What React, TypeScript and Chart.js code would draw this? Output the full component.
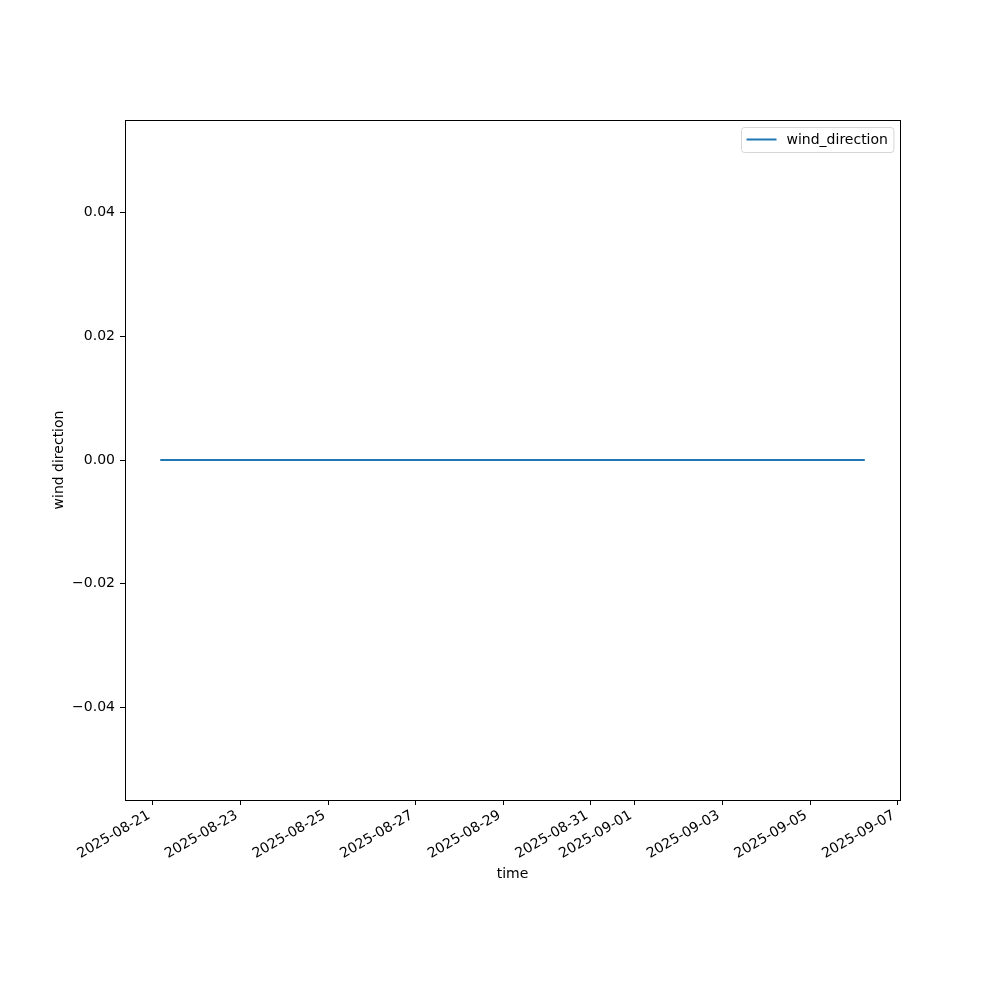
import React, { useEffect, useRef } from "react";
import { Chart, registerables } from "chart.js";

Chart.register(...registerables);

const seriesLabel = "wind_direction";
const timestamps = [
  "2025-08-21T04:00:00Z",
  "2025-08-22T04:00:00Z",
  "2025-08-23T04:00:00Z",
  "2025-08-24T04:00:00Z",
  "2025-08-25T04:00:00Z",
  "2025-08-26T04:00:00Z",
  "2025-08-27T04:00:00Z",
  "2025-08-28T04:00:00Z",
  "2025-08-29T04:00:00Z",
  "2025-08-30T04:00:00Z",
  "2025-08-31T04:00:00Z",
  "2025-09-01T04:00:00Z",
  "2025-09-02T04:00:00Z",
  "2025-09-03T04:00:00Z",
  "2025-09-04T04:00:00Z",
  "2025-09-05T04:00:00Z",
  "2025-09-06T04:00:00Z",
  "2025-09-06T06:00:00Z",
];
const windDirection = [0, 0, 0, 0, 0, 0, 0, 0, 0, 0, 0, 0, 0, 0, 0, 0, 0, 0];
const xTickDates = [
  "2025-08-21",
  "2025-08-23",
  "2025-08-25",
  "2025-08-27",
  "2025-08-29",
  "2025-08-31",
  "2025-09-01",
  "2025-09-03",
  "2025-09-05",
  "2025-09-07",
];
const yTicks = [-0.04, -0.02, 0, 0.02, 0.04];
const yMin = -0.055;
const yMax = 0.055;

const FONT = "'DejaVu Sans', sans-serif";

export default function App() {
  const ref = useRef<HTMLCanvasElement | null>(null);
  useEffect(() => {
    if (!ref.current) return;
    const xs = timestamps.map((t) => Date.parse(t));
    const dMin = Math.min(...xs);
    const dMax = Math.max(...xs);
    const margin = (dMax - dMin) * 0.05;

    const framePlugin = {
      id: "frame",
      afterDraw(chart: any) {
        const { ctx, chartArea } = chart;
        ctx.save();
        ctx.strokeStyle = "#000";
        ctx.lineWidth = 1;
        ctx.strokeRect(
          Math.round(chartArea.left) + 0.5,
          Math.round(chartArea.top) + 0.5,
          Math.round(chartArea.right - chartArea.left),
          Math.round(chartArea.bottom - chartArea.top)
        );
        // legend
        const ds = chart.data.datasets[0];
        ctx.font = `14px ${FONT}`;
        const tw = ctx.measureText(ds.label).width;
        const bw = 45 + tw + 6;
        const bh = 25;
        const bx = Math.round(chartArea.right - 7 - bw) + 0.5;
        const by = Math.round(chartArea.top + 7) + 0.5;
        ctx.beginPath();
        const r = 3;
        ctx.moveTo(bx + r, by);
        ctx.lineTo(bx + bw - r, by);
        ctx.arcTo(bx + bw, by, bx + bw, by + r, r);
        ctx.lineTo(bx + bw, by + bh - r);
        ctx.arcTo(bx + bw, by + bh, bx + bw - r, by + bh, r);
        ctx.lineTo(bx + r, by + bh);
        ctx.arcTo(bx, by + bh, bx, by + bh - r, r);
        ctx.lineTo(bx, by + r);
        ctx.arcTo(bx, by, bx + r, by, r);
        ctx.closePath();
        ctx.fillStyle = "rgba(255,255,255,0.8)";
        ctx.fill();
        ctx.strokeStyle = "#d6d6d6";
        ctx.lineWidth = 1;
        ctx.stroke();
        ctx.strokeStyle = ds.borderColor;
        ctx.lineWidth = 2;
        ctx.beginPath();
        ctx.moveTo(bx + 5, by + 12);
        ctx.lineTo(bx + 35, by + 12);
        ctx.stroke();
        ctx.fillStyle = "#000";
        ctx.textBaseline = "middle";
        ctx.textAlign = "left";
        ctx.fillText(ds.label, bx + 45, by + 12.5);
        ctx.restore();
      },
    };

    const chart = new Chart(ref.current, {
      type: "line",
      data: {
        datasets: [
          {
            label: seriesLabel,
            data: xs.map((x, i) => ({ x, y: windDirection[i] })),
            borderColor: "#1f77b4",
            backgroundColor: "#1f77b4",
            borderWidth: 2,
            pointRadius: 0,
            tension: 0,
          },
        ],
      },
      options: {
        animation: false,
        responsive: false,
        devicePixelRatio: 1,
        layout: { padding: { left: 47, right: 100, top: 120, bottom: 113 } },
        plugins: { legend: { display: false }, tooltip: { enabled: false } },
        scales: {
          x: {
            type: "linear",
            min: dMin - margin,
            max: dMax + margin,
            afterBuildTicks: (scale: any) => {
              scale.ticks = xTickDates.map((d) => ({ value: Date.parse(d + "T00:00:00Z") }));
            },
            afterFit: (scale: any) => {
              scale.height = 87;
            },
            ticks: {
              autoSkip: false,
              minRotation: 30,
              maxRotation: 30,
              padding: 0,
              color: "#000",
              font: { family: FONT, size: 14 },
              callback: (v: any) => new Date(v).toISOString().slice(0, 10) + " ",
            },
            grid: {
              display: true,
              drawOnChartArea: false,
              drawTicks: true,
              tickLength: 5,
              color: "#000",
            },
            border: { display: false },
            title: {
              display: true,
              text: "time",
              color: "#000",
              font: { family: FONT, size: 14 },
              padding: { top: 4, bottom: 4 },
            },
          },
          y: {
            type: "linear",
            min: yMin,
            max: yMax,
            afterBuildTicks: (scale: any) => {
              scale.ticks = yTicks.map((v) => ({ value: v }));
            },
            afterFit: (scale: any) => {
              scale.width = 78;
            },
            ticks: {
              padding: 5,
              color: "#000",
              font: { family: FONT, size: 14 },
              callback: (v: any) => Number(v).toFixed(2).replace("-", "\u2212"),
            },
            grid: {
              display: true,
              drawOnChartArea: false,
              drawTicks: true,
              tickLength: 5,
              color: "#000",
            },
            border: { display: false },
            title: {
              display: true,
              text: "wind direction",
              color: "#000",
              font: { family: FONT, size: 14 },
              padding: { top: 4, bottom: 4 },
            },
          },
        },
      },
      plugins: [framePlugin],
    });
    return () => chart.destroy();
  }, []);
  return (
    <div style={{ position: "absolute", left: 0, top: 0, width: 1000, height: 1000, background: "#fff" }}>
      <canvas ref={ref} width={1000} height={1000} style={{ width: 1000, height: 1000 }} />
    </div>
  );
}
